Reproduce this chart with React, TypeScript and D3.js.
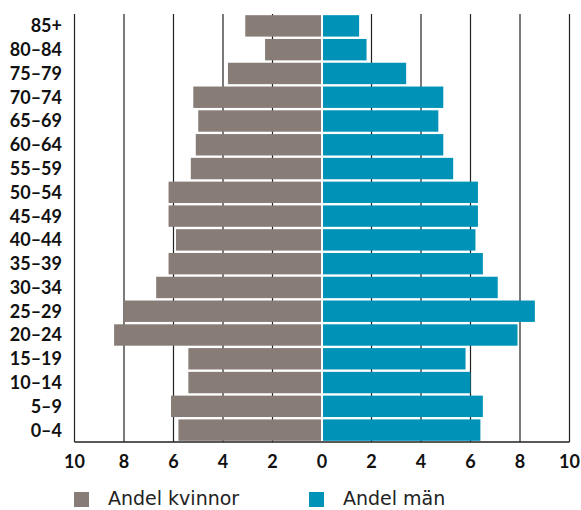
import React from 'react';
import * as d3 from 'd3';

const ages = ['85+', '80–84', '75–79', '70–74', '65–69', '60–64', '55–59', '50–54', '45–49', '40–44', '35–39', '30–34', '25–29', '20–24', '15–19', '10–14', '5–9', '0–4'];
const women = [3.1, 2.3, 3.8, 5.2, 5.0, 5.1, 5.3, 6.2, 6.2, 5.9, 6.2, 6.7, 8.0, 8.4, 5.4, 5.4, 6.1, 5.8];
const men = [1.5, 1.8, 3.4, 4.9, 4.7, 4.9, 5.3, 6.3, 6.3, 6.2, 6.5, 7.1, 8.6, 7.9, 5.8, 6.0, 6.5, 6.4];
const ticks = [-10, -8, -6, -4, -2, 0, 2, 4, 6, 8, 10];

const grey = '#877c76';
const blue = '#0093b7';

const width = 581;
const height = 510;
const margin = { top: 14, left: 74.5, right: 11.5, bottom: 68 };

export default function App() {
  const x = d3.scaleLinear().domain([-10, 10]).range([margin.left, width - margin.right]);
  const y = d3.scaleBand<string>()
    .domain(ages)
    .range([margin.top, height - margin.bottom])
    .paddingInner(0.1)
    .paddingOuter(0.05);
  const x0 = x(0);
  const bottom = height - margin.bottom;

  return (
    <svg width={width} height={height} style={{ position: 'absolute', left: 0, top: 0, background: '#fff' }}>
      {/* rutnät */}
      {ticks.filter(t => t !== 0).map(t => (
        <line key={t} x1={x(t)} x2={x(t)} y1={margin.top} y2={bottom} stroke="#222" strokeWidth={1.2} />
      ))}
      <line x1={x(-10)} x2={x(10)} y1={bottom} y2={bottom} stroke="#222" strokeWidth={1.5} />

      {/* staplar */}
      {ages.map((a, i) => (
        <g key={a}>
          <rect x={x(-women[i])} y={y(a)} width={x0 - 1 - x(-women[i])} height={y.bandwidth()} fill={grey} />
          <rect x={x0 + 1} y={y(a)} width={x(men[i]) - x0 - 1} height={y.bandwidth()} fill={blue} />
          <text x={62} y={y(a)! + y.bandwidth() / 2} dy="0.36em" textAnchor="end"
            fontFamily="Lato" fontWeight="bold" fontSize={18} fill="#111">{a}</text>
        </g>
      ))}

      {/* x-axel */}
      {ticks.map(t => (
        <text key={t} x={x(t)} y={468} textAnchor="middle" fontFamily="Lato" fontWeight="bold" fontSize={18} fill="#111">
          {Math.abs(t)}
        </text>
      ))}

      {/* förklaring */}
      <rect x={74} y={492} width={15} height={15} fill={grey} />
      <text x={108} y={504.5} fontFamily="DejaVu Sans" fontSize={19} fill="#222">Andel kvinnor</text>
      <rect x={309} y={492} width={15} height={15} fill={blue} />
      <text x={343} y={504.5} fontFamily="DejaVu Sans" fontSize={19} fill="#222">Andel män</text>
    </svg>
  );
}
